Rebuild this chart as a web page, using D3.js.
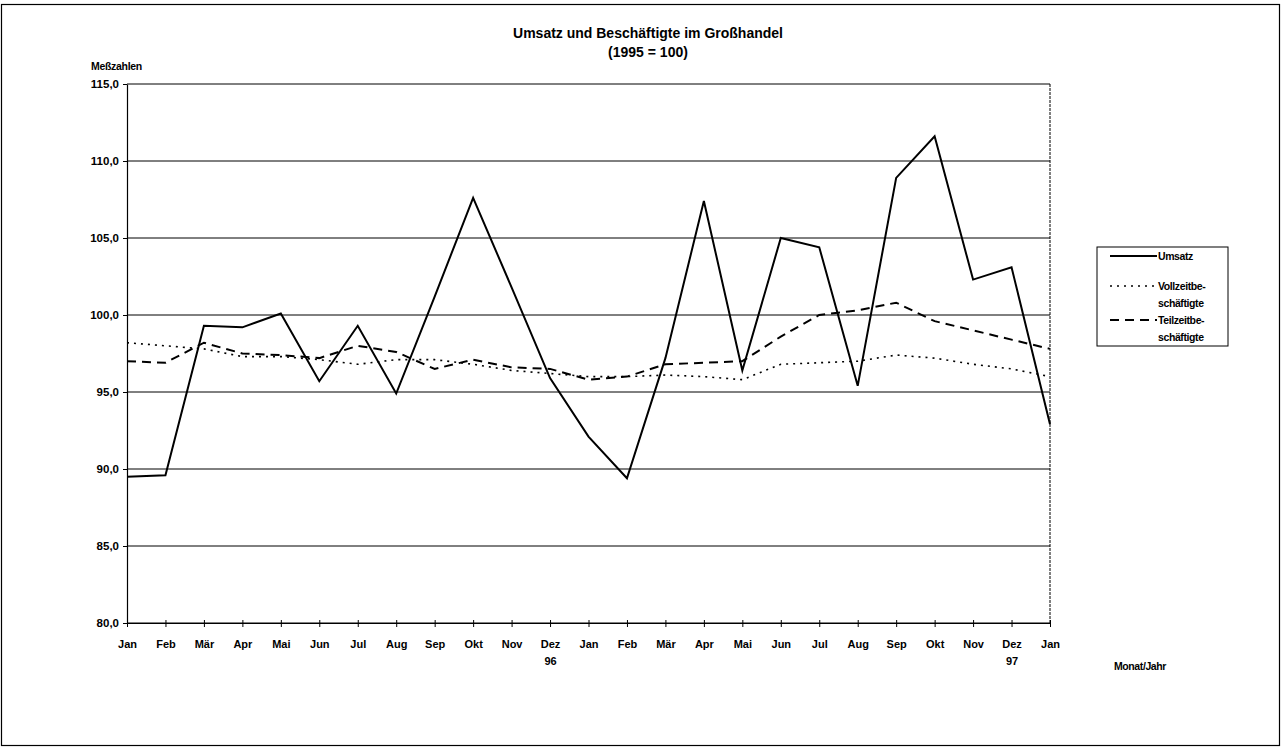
<!DOCTYPE html>
<html>
<head>
<meta charset="utf-8">
<script src="https://cdn.jsdelivr.net/npm/d3@7"></script>
<style>
  body { margin: 0; background: #fff; }
  text { font-family: "Liberation Sans", Arial, sans-serif; font-weight: bold; fill: #000; }
</style>
</head>
<body>
<div id="chart"></div>
<script>
var width = 1281, height = 748;
var margin = {top: 84, right: 231, bottom: 125, left: 127};

// data
var months = ["Jan","Feb","Mär","Apr","Mai","Jun","Jul","Aug","Sep","Okt","Nov","Dez",
              "Jan","Feb","Mär","Apr","Mai","Jun","Jul","Aug","Sep","Okt","Nov","Dez","Jan"];
var yearLabels = {11: "96", 23: "97"};
var umsatz = [89.5, 89.6, 99.3, 99.2, 100.1, 95.7, 99.3, 94.9, 101.2, 107.6, 101.8, 95.9,
              92.1, 89.4, 97.2, 107.4, 96.4, 105.0, 104.4, 95.4, 108.9, 111.6, 102.3, 103.1, 92.9];
var vollzeit = [98.2, 98.0, 97.8, 97.3, 97.3, 97.1, 96.8, 97.1, 97.1, 96.8, 96.4, 96.2,
                96.0, 96.0, 96.1, 96.0, 95.8, 96.8, 96.9, 97.0, 97.4, 97.2, 96.8, 96.5, 96.0];
var teilzeit = [97.0, 96.9, 98.2, 97.5, 97.4, 97.2, 98.0, 97.6, 96.5, 97.1, 96.6, 96.5,
                95.8, 96.0, 96.8, 96.9, 97.0, 98.6, 100.0, 100.3, 100.8, 99.6, 99.0, 98.4, 97.8];
var yTicks = [80, 85, 90, 95, 100, 105, 110, 115];

var series = [
    {name: ["Umsatz"], values: umsatz, width: 2, dash: null},
    {name: ["Vollzeitbe-", "schäftigte"], values: vollzeit, width: 1.6, dash: "2,5"},
    {name: ["Teilzeitbe-", "schäftigte"], values: teilzeit, width: 2, dash: "9,6"}
];

var w = width - margin.left - margin.right,
    h = height - margin.top - margin.bottom;

var svg = d3.select("#chart")
            .append("svg")
                .attr("width", width)
                .attr("height", height);

// outer frame
svg.append("rect")
    .attr("x", 1.5).attr("y", 4.5)
    .attr("width", width - 3).attr("height", height - 7)
    .attr("fill", "none").attr("stroke", "#000").attr("stroke-width", 1.2);

// title
svg.append("text").attr("x", 648).attr("y", 38).attr("text-anchor", "middle")
    .style("font-size", "14px").text("Umsatz und Beschäftigte im Großhandel");
svg.append("text").attr("x", 648).attr("y", 57).attr("text-anchor", "middle")
    .style("font-size", "14px").text("(1995 = 100)");

svg.append("text").attr("x", 91).attr("y", 70)
    .style("font-size", "10.5px").style("letter-spacing", "-0.3px").text("Meßzahlen");
svg.append("text").attr("x", 1114).attr("y", 670)
    .style("font-size", "10.5px").style("letter-spacing", "-0.4px").text("Monat/Jahr");

var g = svg.append("g")
    .attr("transform", "translate(" + margin.left + "," + margin.top + ")");

var xScale = d3.scalePoint()
    .domain(d3.range(months.length))
    .range([0, w]);

var yScale = d3.scaleLinear()
    .domain([80, 115])
    .range([h, 0]);

// gridlines
g.append("g")
    .selectAll("line")
    .data(yTicks)
    .enter()
    .append("line")
        .attr("x1", 0).attr("x2", w)
        .attr("y1", function(d) { return yScale(d); })
        .attr("y2", function(d) { return yScale(d); })
        .attr("stroke", "#000").attr("stroke-width", 1);

// right border
g.append("line")
    .attr("x1", w).attr("x2", w).attr("y1", 0).attr("y2", h)
    .attr("stroke", "#000").attr("stroke-width", 1).attr("stroke-dasharray", "3,1");

// y axis
var yAxis = g.append("g")
    .call(d3.axisLeft(yScale)
        .tickValues(yTicks)
        .tickSizeInner(4).tickSizeOuter(0)
        .tickFormat(function(d) { return d3.format(".1f")(d).replace(".", ","); }));
yAxis.select(".domain").attr("stroke-width", 1.2);
yAxis.selectAll("text").style("font-size", "11.5px").attr("dx", "-1");

// x axis
var xAxis = g.append("g")
    .attr("transform", "translate(0," + h + ")")
    .call(d3.axisBottom(xScale)
        .tickSizeInner(4).tickSizeOuter(0)
        .tickFormat(function(d) { return months[d]; }));
xAxis.selectAll(".tick line").attr("y1", -3);
xAxis.select(".domain").attr("stroke-width", 1.2);
xAxis.selectAll(".tick text").style("font-size", "11px").attr("y", 17).attr("dy", "0.71em");
xAxis.selectAll(".tick")
    .filter(function(d) { return yearLabels[d]; })
    .append("text")
        .attr("y", 34).attr("dy", "0.71em")
        .attr("fill", "#000")
        .style("font-size", "11px")
        .text(function(d) { return yearLabels[d]; });

// lines
var line = d3.line()
    .x(function(d, i) { return xScale(i); })
    .y(function(d) { return yScale(d); });

g.append("g")
    .selectAll("path")
    .data(series)
    .enter()
    .append("path")
        .attr("d", function(d) { return line(d.values); })
        .attr("fill", "none")
        .attr("stroke", "#000")
        .attr("stroke-width", function(d) { return d.width; })
        .attr("stroke-dasharray", function(d) { return d.dash; })
        .attr("stroke-linejoin", "miter");

// legend
var legend = svg.append("g").attr("transform", "translate(1097,247)");
legend.append("rect")
    .attr("width", 131).attr("height", 99)
    .attr("fill", "#fff").attr("stroke", "#000").attr("stroke-width", 1);

var legendY = [9, 39, 73];
var items = legend.selectAll(".item")
    .data(series)
    .enter()
    .append("g")
        .attr("transform", function(d, i) { return "translate(0," + legendY[i] + ")"; });
items.append("line")
    .attr("x1", 13).attr("x2", 60)
    .attr("stroke", "#000")
    .attr("stroke-width", function(d) { return d.width; })
    .attr("stroke-dasharray", function(d) { return d.dash; });
items.selectAll("text")
    .data(function(d) { return d.name; })
    .enter()
    .append("text")
        .attr("x", 61)
        .attr("y", function(d, i) { return 4 + i * 17; })
        .style("font-size", "10.5px")
        .style("letter-spacing", "-0.4px")
        .text(function(d) { return d; });
</script>
</body>
</html>
